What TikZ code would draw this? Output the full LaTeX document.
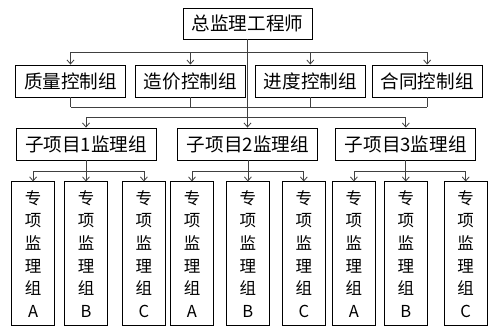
\documentclass[tikz,border=0pt]{standalone}
\usepackage{fontspec}
\newfontfamily\cjk{Noto Sans CJK SC}
\usetikzlibrary{arrows.meta,positioning,calc}
\definecolor{wire}{HTML}{404040}
\tikzset{
  box/.style={rectangle,draw=black,line width=0.9pt,fill=white,
              minimum width=#1,minimum height=32pt,inner sep=0pt,
              font=\cjk\fontsize{18.6}{20}\selectfont},
  box/.default=110pt,
  colbox/.style={rectangle,draw=black,line width=0.9pt,fill=white,
                 minimum width=43pt,minimum height=144pt,inner sep=0pt,
                 align=center,font=\cjk\fontsize{16.5}{22.6}\selectfont},
  arr/.style={-{Straight Barb[length=4pt,width=7pt]},line width=0.8pt,color=wire},
  lnk/.style={line width=0.8pt,color=wire},
}

\begin{document}
\begin{tikzpicture}
  \path[use as bounding box,fill=white] (0,0) rectangle (499pt,-335pt);

  % chief
  \node[box=129pt,minimum height=31pt] (top) at (247.5pt,-23.5pt) {总监理工程师};

  % control groups
  \node[box] (q) at (70.5pt,-81pt) {质量控制组};
  \node[box,right=9pt of q] (z) {造价控制组};
  \node[box,right=9pt of z] (j) {进度控制组};
  \node[box,right=6pt of j] (h) {合同控制组};

  % sub-project groups
  \node[box=140pt] (s1) at (86pt,-144pt) {子项目1监理组};
  \node[box=140pt,right=21pt of s1] (s2) {子项目2监理组};
  \node[box=140pt,right=17pt of s2] (s3) {子项目3监理组};

  % special groups
  \node[colbox,below=21pt of s1] (m1) {专\\项\\监\\理\\组\\B};
  \node[colbox,left=9pt of m1]   (l1) {专\\项\\监\\理\\组\\A};
  \node[colbox,right=14pt of m1] (r1) {专\\项\\监\\理\\组\\C};
  \node[colbox,below=21pt of s2] (m2) {专\\项\\监\\理\\组\\B};
  \node[colbox,left=12pt of m2]  (l2) {专\\项\\监\\理\\组\\A};
  \node[colbox,right=12pt of m2] (r2) {专\\项\\监\\理\\组\\C};
  \node[colbox,below=21pt of s3] (m3) {专\\项\\监\\理\\组\\B};
  \node[colbox,left=8pt of m3]   (l3) {专\\项\\监\\理\\组\\A};
  \node[colbox,right=16pt of m3] (r3) {专\\项\\监\\理\\组\\C};

  \coordinate (b1) at (0,-52pt);
  \coordinate (b2) at (0,-107pt);
  \coordinate (b3) at (0,-117pt);
  \coordinate (b4) at (0,-171pt);

  % chief to control groups
  \draw[lnk] (q.north |- b1) -- (h.north |- b1);
  \foreach \n in {q,z,j,h}
    \draw[arr] (\n.north |- b1) -- (\n.north);

  % control groups join the main line
  \foreach \n in {q,z,j,h}
    \draw[lnk] (\n.south) -- (\n.south |- b2);
  \draw[lnk] (q.south |- b2) -- (h.south |- b2);

  % main line to sub-project groups
  \draw[arr] (top.south) -- (top.south |- s2.north);
  \draw[lnk] (s1.north |- b3) -- (s3.north |- b3);
  \draw[arr] (s1.north |- b3) -- (s1.north);
  \draw[arr] (s3.north |- b3) -- (s3.north);

  % sub-project groups to special groups
  \foreach \g in {1,2,3}{
    \draw[arr] (s\g.south) -- (s\g.south |- m\g.north);
    \draw[lnk] (l\g.north |- b4) -- (r\g.north |- b4);
    \draw[arr] (l\g.north |- b4) -- (l\g.north);
    \draw[arr] (r\g.north |- b4) -- (r\g.north);
  }
\end{tikzpicture}
\end{document}
